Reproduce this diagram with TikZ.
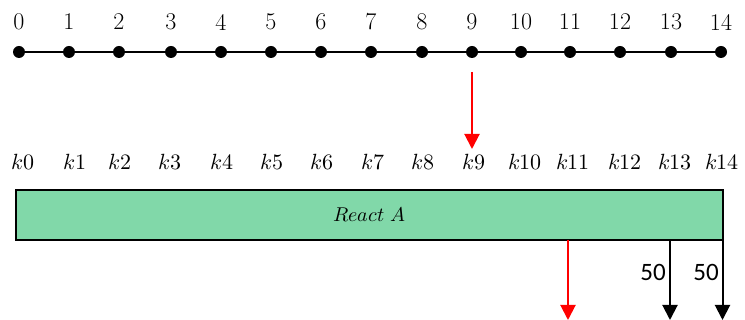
\documentclass[tikz,border=0pt]{standalone}
\usepackage{unicode-math}
\setmainfont{Latin Modern Roman}
\setmathfont{Latin Modern Math}
\newfontfamily\amountfont{Carlito}
\usetikzlibrary{arrows.meta}
\definecolor{reactgreen}{RGB}{129,216,169}
\definecolor{flowred}{RGB}{255,0,0}
\tikzset{
  dot/.style={circle,fill=black,inner sep=0pt,minimum size=12pt},
  ticklabel/.style={font=\fontsize{24}{28}\selectfont,inner sep=0pt},
  klabel/.style={font=\fontsize{22}{26}\selectfont,inner sep=0pt},
  reactbox/.style={draw=black,line width=2pt,fill=reactgreen,minimum width=707pt,minimum height=50pt,inner sep=0pt,font=\fontsize{20}{24}\selectfont},
  flow/.style={line width=2pt,-{Triangle[width=15pt,length=15pt]}},
  amount/.style={font=\amountfont\fontsize{25}{30}\selectfont,inner sep=0pt,anchor=east},
}
\begin{document}
\begin{tikzpicture}[x=1pt,y=-1pt]
  \useasboundingbox (0,0) rectangle (745,320);
  % time axis: ticks 0..14
  \foreach \i/\x in {0/19,1/69,2/119,3/171,4/221,5/271,6/321,7/371,8/422,9/472,10/521,11/570,12/620,13/671,14/721}{
    \node[dot] (d\i) at (\x,52) {};
    \node[ticklabel] (t\i) at (\x,22) {\i};
  }
  \draw[line width=2pt] (d0) -- (d14);
  % period labels
  \foreach \i/\x in {0/23,1/75,2/120,3/170,4/222,5/272,6/322,7/373,8/423,9/474,10/525,11/573,12/625,13/675,14/722}{
    \node[klabel] (k\i) at (\x,162) {$k\i$};
  }
  % reaction block
  \node[reactbox] (react) at (369.5,215) {$React\ A$};
  % incoming pointer
  \coordinate (p0) at (472,72);
  \coordinate (p1) at (472,149);
  \draw[flow,flowred] (p0) -- (p1);
  % outflows below the block
  \coordinate (r0) at (568,240);
  \coordinate (r1) at (568,320);
  \draw[flow,flowred] (r0) -- (r1);
  \coordinate (a0) at (670,240);
  \coordinate (a1) at (670,320);
  \draw[flow] (a0) -- (a1);
  \coordinate (b0) at (722.5,240);
  \coordinate (b1) at (722.5,320);
  \draw[flow] (b0) -- (b1);
  \node[amount] (q1) at (666,272) {50};
  \node[amount] (q2) at (719,272) {50};
\end{tikzpicture}
\end{document}
